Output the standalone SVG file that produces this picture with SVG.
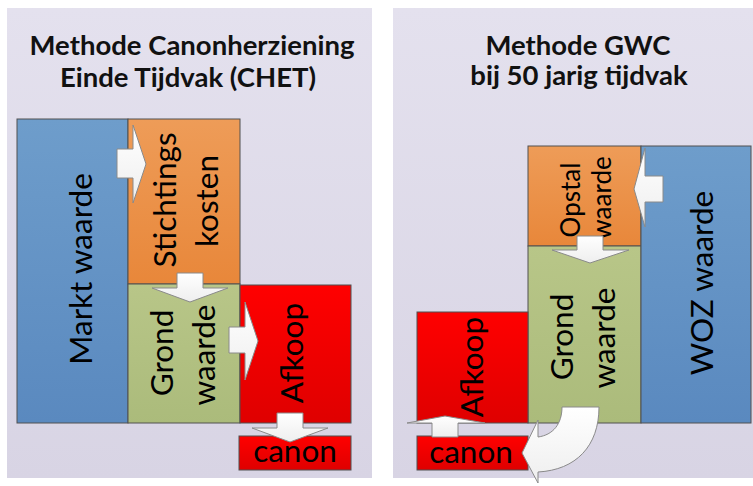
<svg xmlns="http://www.w3.org/2000/svg" width="753" height="486" viewBox="0 0 753 486">
<defs>
<linearGradient id="gPanel" x1="0" y1="0" x2="0" y2="1"><stop offset="0" stop-color="#e4e1ee"/><stop offset="1" stop-color="#d8d4e4"/></linearGradient>
<linearGradient id="gBlue" x1="0" y1="0" x2="0" y2="1"><stop offset="0" stop-color="#6e9dcb"/><stop offset="1" stop-color="#5a89bf"/></linearGradient>
<linearGradient id="gOrange" x1="0" y1="0" x2="0" y2="1"><stop offset="0" stop-color="#ee9c58"/><stop offset="1" stop-color="#e8873a"/></linearGradient>
<linearGradient id="gGreen" x1="0" y1="0" x2="0" y2="1"><stop offset="0" stop-color="#b8c688"/><stop offset="1" stop-color="#abbb7b"/></linearGradient>
<linearGradient id="gRed" x1="0" y1="0" x2="0" y2="1"><stop offset="0" stop-color="#ff0000"/><stop offset="1" stop-color="#df0000"/></linearGradient>
<linearGradient id="gArrow" x1="0" y1="0" x2="0" y2="1"><stop offset="0" stop-color="#ffffff"/><stop offset="1" stop-color="#eeeeee"/></linearGradient>
</defs>
<style>
.panel{fill:url(#gPanel);}
.box{stroke:#505050;stroke-width:1;}
.blue{fill:url(#gBlue);}
.orange{fill:url(#gOrange);}
.green{fill:url(#gGreen);}
.red{fill:url(#gRed);}
.title{font-family:Lato,"Liberation Sans",sans-serif;font-weight:bold;font-size:27.5px;fill:#111;text-anchor:middle;}
.lbl{font-family:Lato,"Liberation Sans",sans-serif;font-size:31.5px;fill:#000;text-anchor:middle;}
.sm{font-size:26px;}
.arrow{fill:url(#gArrow);stroke:#8a8a8a;stroke-width:1;stroke-linejoin:miter;}
</style>
<rect x="0" y="0" width="753" height="486" fill="#ffffff"/>
<g id="panel-left">
<rect class="panel" x="7" y="8" width="365" height="470"/>
<text class="title" x="192" y="55">Methode Canonherziening</text>
<text class="title" x="188" y="87">Einde Tijdvak (CHET)</text>
</g>
<g id="panel-right">
<rect class="panel" x="393" y="8" width="360" height="470"/>
<text class="title" x="578" y="55">Methode GWC</text>
<text class="title" x="579" y="85">bij 50 jarig tijdvak</text>
</g>

<g id="markt-waarde">
<rect class="box blue" x="17" y="119" width="111" height="304"/>
<text class="lbl" transform="translate(92,269) rotate(-90)">Markt waarde</text>
</g>
<g id="stichtingskosten">
<rect class="box orange" x="128" y="119" width="112" height="165"/>
<text class="lbl" transform="translate(176,200) rotate(-90)">Stichtings</text>
<text class="lbl" transform="translate(218,201) rotate(-90)">kosten</text>
</g>
<g id="grondwaarde-left">
<rect class="box green" x="128" y="284" width="112" height="139"/>
<text class="lbl" transform="translate(173,353) rotate(-90)">Grond</text>
<text class="lbl" transform="translate(215,355) rotate(-90)">waarde</text>
</g>
<g id="afkoop-left">
<rect class="box red" x="240" y="285" width="111" height="138"/>
<text class="lbl" transform="translate(303,353) rotate(-90)">Afkoop</text>
</g>
<g id="canon-left">
<rect class="box red" x="239" y="436" width="112" height="34"/>
<text class="lbl" x="295" y="462">canon</text>
</g>

<g id="opstalwaarde">
<rect class="box orange" x="528" y="146" width="113" height="100"/>
<text class="lbl sm" transform="translate(580,200) rotate(-90)">Opstal</text>
<text class="lbl sm" transform="translate(611,198) rotate(-90)">waarde</text>
</g>
<g id="grondwaarde-right">
<rect class="box green" x="528" y="246" width="113" height="177"/>
<text class="lbl" transform="translate(573,337) rotate(-90)">Grond</text>
<text class="lbl" transform="translate(615,338) rotate(-90)">waarde</text>
</g>
<g id="woz-waarde">
<rect class="box blue" x="641" y="146" width="110" height="277"/>
<text class="lbl" transform="translate(713,283) rotate(-90)">WOZ waarde</text>
</g>
<g id="afkoop-right">
<rect class="box red" x="417" y="312" width="111" height="111"/>
<text class="lbl" transform="translate(483,367) rotate(-90)">Afkoop</text>
</g>
<g id="canon-right">
<rect class="box red" x="417" y="436" width="111" height="34"/>
<text class="lbl" x="471" y="463">canon</text>
</g>

<g id="connectors">
<path class="arrow" d="M117,149 L133,149 L133,125 L146,164 L133,203 L133,178 L117,178 Z"/>
<path class="arrow" d="M177,273 L203,273 L203,288 L228,288 L190,302 L152,288 L177,288 Z"/>
<path class="arrow" d="M229,327 L245,327 L245,302 L258,341 L245,380 L245,353 L229,353 Z"/>
<path class="arrow" d="M277,413 L303,413 L303,428 L328,428 L290,442 L252,428 L277,428 Z"/>
<path class="arrow" d="M663,176 L645,176 L645,148 L634,189 L645,227 L645,202 L663,202 Z"/>
<path class="arrow" d="M577,236 L603,236 L603,250 L629,250 L590,263 L552,250 L577,250 Z"/>
<path class="arrow" d="M432,437 L458,437 L458,423 L485,423 L445,416 L407,423 L432,423 Z"/>
<path class="arrow" d="M562,407 L599,407 C599,446 576,470 538,472 L538,483 L522,453 L538,420 L538,437 C553,435 562,424 562,407 Z"/>
</g>
</svg>
